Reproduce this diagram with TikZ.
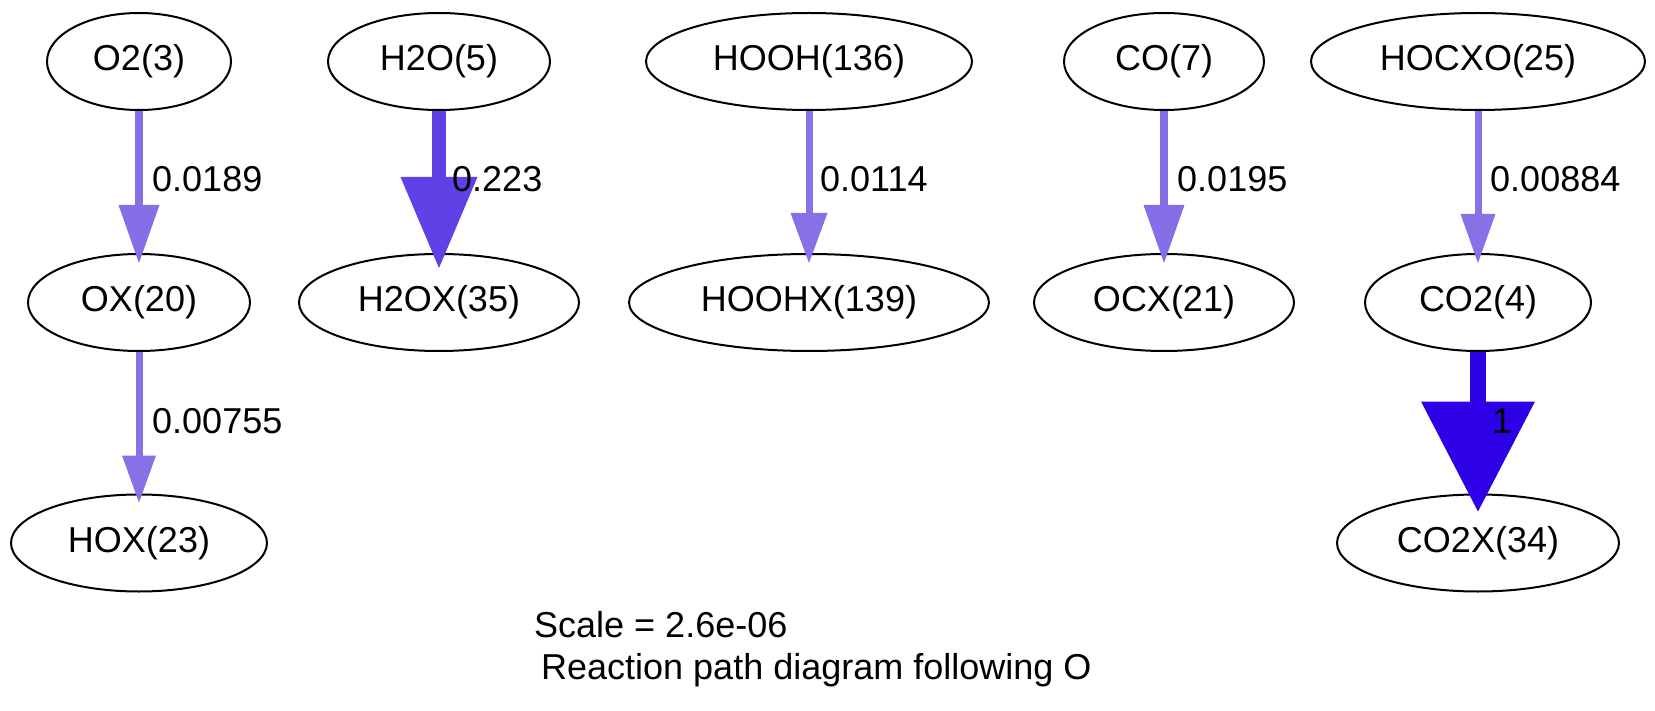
\documentclass[tikz,border=0pt]{standalone}
\usepackage{fontspec}
\setmainfont{Liberation Sans}
\usetikzlibrary{shapes.geometric,arrows.meta}
\definecolor{cA}{RGB}{134,110,230}
\definecolor{cB}{RGB}{97,64,230}
\definecolor{cC}{RGB}{136,112,230}
\definecolor{cD}{RGB}{136,113,230}
\definecolor{cE}{RGB}{46,0,230}
\begin{document}
\begin{tikzpicture}[x=1pt,y=-1pt,
  sp/.style={ellipse,draw,line width=2pt,inner sep=0pt,minimum height=97pt,font=\fontsize{36}{43}\selectfont},
  lbl/.style={anchor=west,inner sep=0pt,font=\fontsize{36}{43}\selectfont},
  captxt/.style={anchor=base west,inner sep=0pt,font=\fontsize{36}{43}\selectfont},
  flux/.style n args={4}{draw=#1,line width=#2,-{Triangle[width=#3,length=#4,line width=0pt]}}]
\useasboundingbox (0,0) rectangle (1655,711);
% row 1
\node[sp,minimum width=184pt] (o2) at (139,61.5) {O2(3)};
\node[sp,minimum width=222pt] (h2o) at (439,61.5) {H2O(5)};
\node[sp,minimum width=326pt] (hooh) at (809,61.5) {HOOH(136)};
\node[sp,minimum width=200pt] (co) at (1164,61.5) {CO(7)};
\node[sp,minimum width=334pt] (hocxo) at (1478,61.5) {HOCXO(25)};
% row 2
\node[sp,minimum width=222pt] (ox) at (139,302.5) {OX(20)};
\node[sp,minimum width=280pt] (h2ox) at (439,302.5) {H2OX(35)};
\node[sp,minimum width=360pt] (hoohx) at (809,302.5) {HOOHX(139)};
\node[sp,minimum width=260pt] (ocx) at (1164,302.5) {OCX(21)};
\node[sp,minimum width=226pt] (co2) at (1478,302.5) {CO2(4)};
% row 3
\node[sp,minimum width=256pt] (hox) at (139,543) {HOX(23)};
\node[sp,minimum width=282pt] (co2x) at (1478,543) {CO2X(34)};
% edges
\draw[flux={cA}{8pt}{41pt}{58pt},shorten >=-10pt] (o2) -- (ox);
\draw[flux={cB}{14pt}{77pt}{91pt},shorten >=-15pt] (h2o) -- (h2ox);
\draw[flux={cC}{7pt}{37pt}{50pt},shorten >=-10pt] (hooh) -- (hoohx);
\draw[flux={cA}{8pt}{41pt}{58pt},shorten >=-10pt] (co) -- (ocx);
\draw[flux={cD}{7pt}{35pt}{49pt},shorten >=-10pt] (hocxo) -- (co2);
\draw[flux={cD}{7pt}{34pt}{47pt},shorten >=-9pt] (ox) -- (hox);
\draw[flux={cE}{16pt}{114pt}{110pt},shorten >=-18pt] (co2) -- (co2x);
% labels
\node[lbl] (l1) at (152,179) {0.0189};
\node[lbl] (l2) at (452,179) {0.223};
\node[lbl] (l3) at (820,179) {0.0114};
\node[lbl] (l4) at (1177,179) {0.0195};
\node[lbl] (l5) at (1490,179) {0.00884};
\node[lbl] (l6) at (152,421) {0.00755};
\node[lbl] (l7) at (1492,421) {1};
% caption
\node[captxt] (cap1) at (534,637) {Scale = 2.6e-06};
\node[captxt] (cap2) at (541,679) {Reaction path diagram following O};
\end{tikzpicture}
\end{document}
